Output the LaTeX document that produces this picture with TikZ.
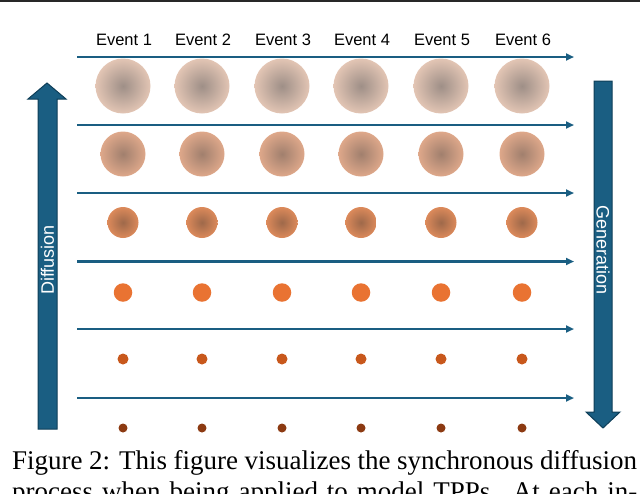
\documentclass[tikz,border=0pt]{standalone}
\usepackage{fontspec}
\setmainfont{Liberation Serif}
\newfontfamily\figsans{Liberation Sans}
\usetikzlibrary{arrows.meta}
\definecolor{arrowblue}{RGB}{26,94,130}
\definecolor{arrowedge}{RGB}{14,62,88}
\definecolor{dotD}{RGB}{233,115,50}
\definecolor{dotE}{RGB}{200,88,28}
\definecolor{dotF}{RGB}{140,58,18}
\definecolor{toprule}{RGB}{40,40,40}
\pgfdeclareradialshading{ballA}{\pgfpointorigin}{rgb(0bp)=(0.62,0.56,0.53); rgb(27bp)=(0.91,0.79,0.72); rgb(50bp)=(0.91,0.79,0.72)}
\pgfdeclareradialshading{ballB}{\pgfpointorigin}{rgb(0bp)=(0.63,0.50,0.43); rgb(27bp)=(0.89,0.67,0.55); rgb(50bp)=(0.89,0.67,0.55)}
\pgfdeclareradialshading{ballC}{\pgfpointorigin}{rgb(0bp)=(0.62,0.41,0.29); rgb(27bp)=(0.88,0.55,0.36); rgb(50bp)=(0.88,0.55,0.36)}
\tikzset{
  flow/.style={draw=arrowblue, line width=2.4pt, -{Triangle[length=8pt,width=7pt]}},
  blockarrow/.style={fill=arrowblue, draw=arrowedge, line width=1pt, line join=miter},
  evlab/.style={font=\figsans\fontsize{16.5}{18}\selectfont, inner sep=0, text=black},
  sidelab/.style={font=\figsans\fontsize{18}{20}\selectfont, inner sep=0, text=white},
  ball/.style={circle, inner sep=0, outer sep=0, draw=none},
  caption/.style={anchor=base west, inner sep=0, font=\fontsize{27}{30}\selectfont}
}
\begin{document}
\begin{tikzpicture}[x=1pt, y=-1pt]
\useasboundingbox (0,0) rectangle (640,493);
\clip (0,0) rectangle (640,493);
\draw[toprule, line width=2.5pt] (0,1.2) -- (640,1.2);
% event labels and circles
\foreach \x [count=\i] in {123,202,282,361,441,522} {
  \node[evlab] (e\i) at (\x+1,40) {Event \i};
  \node[ball, minimum size=55pt, shade, shading=ballA] (a\i) at (\x,86) {};
  \node[ball, minimum size=45pt, shade, shading=ballB] (b\i) at (\x,154) {};
  \node[ball, minimum size=31pt, shade, shading=ballC] (c\i) at (\x,222.5) {};
  \node[ball, minimum size=18.5pt, fill=dotD] (d\i) at (\x,292.5) {};
  \node[ball, minimum size=11pt, fill=dotE] (f\i) at (\x,359) {};
  \node[ball, minimum size=9pt, fill=dotF] (g\i) at (\x,428) {};
}
% horizontal time arrows
\foreach \y [count=\j] in {57,125,193,261.5,329,398} {
  \coordinate (hs\j) at (77,\y);
  \coordinate (he\j) at (574,\y);
  \draw[flow] (hs\j) -- (he\j);
}
% block arrows
\draw[blockarrow] (38,429) -- (38,99) -- (28,99) -- (47,83) -- (66,99) -- (57,99) -- (57,429) -- cycle;
\node[sidelab, rotate=90] (diff) at (47.5,260) {Diffusion};
\draw[blockarrow] (594,81) -- (594,412) -- (586,412) -- (603,428) -- (620,412) -- (612,412) -- (612,81) -- cycle;
\node[sidelab, rotate=-90] (gen) at (603,250) {Generation};
% caption
\node[caption] (cap1) at (12,469) {\makebox[625pt][s]{Figure 2: This figure visualizes the synchronous diffusion}};
\node[caption] (cap2) at (12,500) {\makebox[625pt][s]{process when being applied to model TPPs. At each in-}};
\end{tikzpicture}
\end{document}
